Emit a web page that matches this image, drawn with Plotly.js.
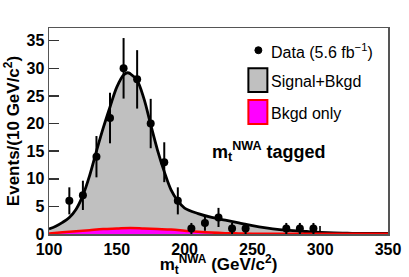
<!DOCTYPE html>
<html><head><meta charset="utf-8">
<script src="https://cdn.plot.ly/plotly-3.0.1.min.js"></script>
<style>html,body{margin:0;padding:0;background:#fff}#chart{width:409px;height:277px}</style>
</head><body><div id="chart"></div>
<script>
// Data points (bin centres, events, statistical errors)
const massData = [115,125,135,145,155,165,175,185,195,205,215,225,235,245,275,285,295];
const events   = [6,7,14,21,30,28,20,13,6,1,2,3,1,1,1,1,1];
const errors   = [2.45,2.65,3.74,4.58,5.48,5.29,4.47,3.61,2.45,1,1.41,1.73,1,1,1,1,1];
// Fitted Signal+Bkgd curve
const curveX   = [100,105,110,115,120,125,130,135,140,145,150,155,158,160,165,170,175,180,185,190,195,200,210,220,230,240,250,260,270,280,290,300,310,320,330,340,350];
const sigBkgd  = [0.9,1.4,2.1,3.0,4.5,7.0,10.6,15.0,19.2,23.0,26.6,28.8,29.2,29.0,27.8,24.5,19.8,15.2,11.3,8.0,6.0,4.7,3.7,3.0,2.5,2.0,1.5,1.1,0.8,0.6,0.45,0.3,0.2,0.15,0.1,0.1,0.1];
// Background only curve
const bkgX     = [100,110,120,130,140,150,160,170,180,190,200,210,220,230,240,250,300,350];
const bkgOnly  = [0.1,0.3,0.5,0.7,0.9,1.0,1.1,1.0,0.9,0.8,0.6,0.4,0.25,0.15,0.1,0.05,0.05,0.05];

const FONT = "Liberation Sans, Arial, Helvetica, sans-serif";

const traces = [
  {x: curveX, y: sigBkgd, type:'scatter', mode:'lines', fill:'tozeroy',
   fillcolor:'#c0c0c0', line:{color:'#000', width:2.8, shape:'spline'}, hoverinfo:'skip'},
  {x: bkgX, y: bkgOnly, type:'scatter', mode:'lines', fill:'tozeroy',
   fillcolor:'#ff00ff', line:{color:'#ff0000', width:2.5, shape:'spline'}, hoverinfo:'skip'},
  {x: massData, y: events, type:'scatter', mode:'markers',
   marker:{color:'#000', size:8},
   error_y:{type:'data', array: errors, visible:true, color:'#000', thickness:2, width:0}}
];

function px(x){return (x-48.5)/339.2;}
function py(y){return (234.4-y)/206.7;}

const layout = {
  width:409, height:277,
  margin:{l:48.5, r:21.3, t:27.7, b:42.6},
  paper_bgcolor:'#fff', plot_bgcolor:'#fff',
  showlegend:false,
  font:{family:FONT, color:'#000'},
  xaxis:{range:[100,350], tickvals:[100,150,200,250,300,350], ticks:'inside', ticklen:8, tickwidth:1.5,
    tickcolor:'#333', showgrid:false, zeroline:false, showline:true, linecolor:'#555', linewidth:1.5,
    mirror:true, layer:'below traces',
    tickfont:{family:FONT, size:16, weight:'bold'},
    title:{text:'m<sub>t</sub><sup>NWA</sup> (GeV/c<sup>2</sup>)', font:{family:FONT, size:17, weight:'bold'}, standoff:7}},
  yaxis:{range:[0,37.3], tickvals:[0,5,10,15,20,25,30,35], ticks:'inside', ticklen:10, tickwidth:1.5,
    tickcolor:'#333', showgrid:false, zeroline:false, showline:true, linecolor:'#555', linewidth:1.5,
    mirror:true, layer:'below traces',
    tickfont:{family:FONT, size:16, weight:'bold'},
    title:{text:'Events/(10 GeV/c<sup>2</sup>)', font:{family:FONT, size:17, weight:'bold'}, standoff:2}},
  shapes:[
    {type:'circle', xref:'paper', yref:'paper', x0:px(254.5), x1:px(261.5), y0:py(53.5), y1:py(46.5),
     fillcolor:'#000', line:{color:'#000', width:1}},
    {type:'rect', xref:'paper', yref:'paper', x0:px(248), x1:px(267), y0:py(92), y1:py(68),
     fillcolor:'#c0c0c0', line:{color:'#000', width:2}},
    {type:'rect', xref:'paper', yref:'paper', x0:px(248), x1:px(267), y0:py(124), y1:py(100),
     fillcolor:'#ff00ff', line:{color:'#ff0000', width:2}}
  ],
  annotations:[
    {xref:'paper', yref:'paper', x:px(269), y:py(51), xanchor:'left', yanchor:'middle', showarrow:false,
     text:'Data (5.6 fb<sup>\u22121</sup>)', font:{family:FONT, size:16}},
    {xref:'paper', yref:'paper', x:px(269), y:py(81), xanchor:'left', yanchor:'middle', showarrow:false,
     text:'Signal+Bkgd', font:{family:FONT, size:16}},
    {xref:'paper', yref:'paper', x:px(269), y:py(113), xanchor:'left', yanchor:'middle', showarrow:false,
     text:'Bkgd only', font:{family:FONT, size:16}},
    {xref:'paper', yref:'paper', x:px(210), y:py(152), xanchor:'left', yanchor:'middle', showarrow:false,
     text:'m<sub>t</sub><sup>NWA</sup> tagged', font:{family:FONT, size:18, weight:'bold'}}
  ]
};

Plotly.newPlot('chart', traces, layout, {displayModeBar:false, staticPlot:true});
</script></body></html>
